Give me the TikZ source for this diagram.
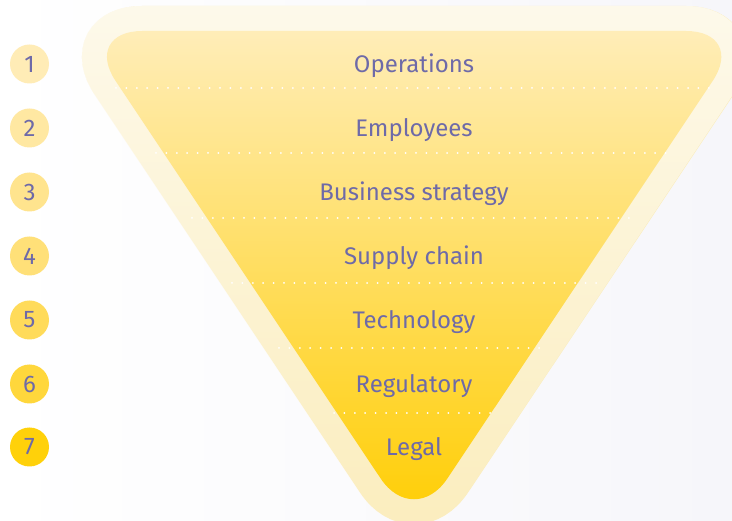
\documentclass[tikz,border=0pt]{standalone}
\usepackage{fontspec}
\setmainfont{Fira Sans}
\usetikzlibrary{calc,fadings}
\definecolor{txt}{RGB}{110,106,168}
\definecolor{bgc}{RGB}{246,246,250}
\definecolor{innertop}{RGB}{255,237,184}
\definecolor{innermid}{RGB}{255,222,108}
\definecolor{innerbot}{RGB}{255,205,0}
\definecolor{halobot}{RGB}{251,237,188}
\definecolor{c1}{RGB}{255,236,182}
\definecolor{c2}{RGB}{255,232,162}
\definecolor{c3}{RGB}{255,228,142}
\definecolor{c4}{RGB}{255,224,120}
\definecolor{c5}{RGB}{255,219,90}
\definecolor{c6}{RGB}{255,215,60}
\definecolor{c7}{RGB}{255,209,10}
\tikzfading[name=halofade, top color=transparent!30, bottom color=transparent!100]
\begin{document}
\begin{tikzpicture}[x=1pt,y=-1pt,
  lbl/.style={text=txt,font=\fontsize{24}{24}\selectfont,anchor=base,inner sep=0pt},
  num/.style={circle,minimum size=39pt,inner sep=0pt,text=txt,font=\fontsize{24}{24}\selectfont},
  dots/.style={white,line width=2pt,line cap=round,dash pattern=on 0pt off 10.4pt},
  funnel/.style={rounded corners=60pt}]
\useasboundingbox (0,0) rectangle (732,521);
\clip (0,0) rectangle (732,521);
\shade[left color=white,right color=bgc] (0,0) rectangle (732,521);
% halo
\draw[funnel,halobot,line width=50pt]
  (414,31) -- (746,31) -- (414,528.5) -- (82.3,31) -- cycle;
\draw[funnel,white,line width=50pt,path fading=halofade]
  (414,31) -- (746,31) -- (414,528.5) -- (82.3,31) -- cycle;
% inner funnel
\shade[funnel,top color=innertop,middle color=innermid,bottom color=innerbot]
  (414,31) -- (746,31) -- (414,528.5) -- (82.3,31) -- cycle;
% dotted separators
\foreach \y/\h in {88/298,153/258,218/222,283/182,348/135,413/80}
  \draw[dots] (414-\h,\y) -- (414+\h,\y);
% labels
\node[lbl] (t1) at (414,72.5) {Operations};
\node[lbl] (t2) at (414,136.5) {Employees};
\node[lbl] (t3) at (414,200.5) {Business strategy};
\node[lbl] (t4) at (414,264.5) {Supply chain};
\node[lbl] (t5) at (414,328.5) {Technology};
\node[lbl] (t6) at (414,392.5) {Regulatory};
\node[lbl] (t7) at (414,456) {Legal};
% numbers
\node[num,fill=c1] (n1) at (29.5,64) {1};
\node[num,fill=c2] (n2) at (29.5,128) {2};
\node[num,fill=c3] (n3) at (29.5,192) {3};
\node[num,fill=c4] (n4) at (29.5,256) {4};
\node[num,fill=c5] (n5) at (29.5,320) {5};
\node[num,fill=c6] (n6) at (29.5,384) {6};
\node[num,fill=c7] (n7) at (29.5,447) {7};
\end{tikzpicture}
\end{document}
